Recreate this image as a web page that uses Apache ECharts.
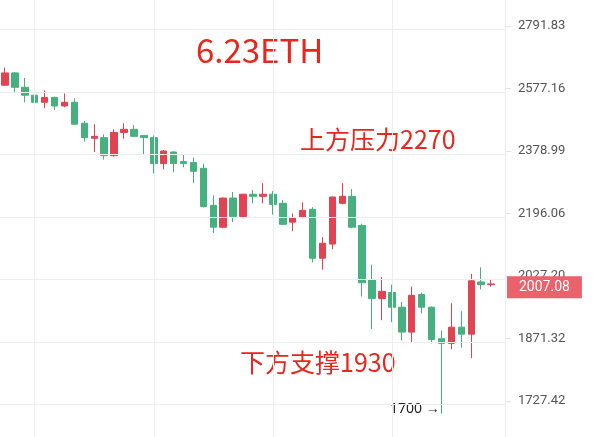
<!DOCTYPE html>
<html><head><meta charset="utf-8">
<script src="https://cdn.jsdelivr.net/npm/echarts@6/dist/echarts.min.js"></script>
<style>html,body{margin:0;padding:0;background:#fff}#c{width:593px;height:437px}</style>
</head><body><div id="c"></div>
<script>
// [open, close, low, high]
const candles = [
[2588,2629,2586,2647],[2629,2581,2564,2632],[2581,2555,2532,2612],[2555,2532,2529,2619],
[2532,2548,2513,2571],[2548,2520,2507,2550],[2520,2532,2516,2561],[2532,2462,2460,2545],
[2465,2420,2408,2472],[2418,2424,2376,2462],[2420,2365,2353,2430],[2365,2436,2362,2446],
[2436,2446,2417,2465],[2446,2424,2422,2459],[2427,2420,2367,2428],[2420,2341,2312,2427],
[2341,2379,2324,2382],[2376,2341,2315,2378],[2347,2341,2330,2370],[2344,2318,2283,2359],
[2327,2216,2213,2340],[2219,2158,2142,2248],[2158,2240,2155,2242],[2240,2188,2172,2257],
[2188,2251,2183,2252],[2251,2245,2225,2263],[2245,2251,2225,2283],[2251,2222,2193,2260],
[2225,2166,2164,2234],[2172,2185,2147,2196],[2185,2205,2183,2228],[2208,2074,2063,2214],
[2074,2114,2044,2131],[2112,2243,2098,2244],[2225,2245,2222,2283],[2245,2158,2155,2266],
[2163,2010,1975,2168],[2017,1970,1894,2057],[1970,1988,1916,2025],[1985,1948,1911,2005],
[1948,1887,1867,1961],[1887,1978,1862,2000],[1980,1948,1933,1985],[1948,1869,1860,1950],
[1871,1860,1700,1891],[1860,1899,1846,1958],[1899,1882,1850,1938],[1882,2015,1825,2033],
[2012,2005,1993,2050],[2005,2007,2000,2020]
];
const tickLabels = ['2791.83','2577.16','2378.99','2196.06','2027.20','1871.32','1727.42'];
const lastPrice = 2007.08;
const yRange = [1650, 2886];

const L = Math.log;
const cats = candles.map((_, i) => i).concat(['']);
const data = candles.map(c => c.map(L));
const tickVals = tickLabels.map(t => L(parseFloat(t)));
const fmt = v => { const i = tickVals.findIndex(t => Math.abs(t - v) < 1e-6); return i >= 0 ? tickLabels[i] : ''; };

const chart = echarts.init(document.getElementById('c'));
chart.setOption({
  animation: false,
  grid: {left: -2, right: 87, top: 0, bottom: 0},
  xAxis: {type: 'category', data: cats, show: false, boundaryGap: true},
  yAxis: {type: 'value', position: 'right', min: L(yRange[0]), max: L(yRange[1]), scale: true,
    splitLine: {show: false}, axisLine: {show: false},
    axisTick: {show: true, customValues: tickVals, length: 5, lineStyle: {color: '#e4e4e4'}},
    axisLabel: {customValues: tickVals, formatter: fmt, color: '#555', fontSize: 13, margin: 12, fontFamily: 'Roboto'}},
  series: [{
    type: 'candlestick', data: data, barWidth: 7,
    itemStyle: {color: '#e04452', color0: '#47b07f', borderColor: '#e04452', borderColor0: '#47b07f', borderWidth: 1},
    markLine: {silent: true, symbol: 'none',
      lineStyle: {color: '#eeeeee', width: 1, type: 'solid'}, label: {show: false},
      data: tickVals.map(v => ({yAxis: v})).concat([3, 15, 27, 39].map(i => ({xAxis: i})))
        .concat([{yAxis: L(lastPrice), lineStyle: {color: 'rgba(0,0,0,0)', width: 1},
          label: {show: true, position: 'end', formatter: lastPrice.toFixed(2), color: '#fff', fontSize: 14,
            backgroundColor: '#e9626c', padding: [4, 12, 4, 12], distance: 1, fontFamily: 'Roboto'}}])
    }
  }],
  graphic: [
    {type: 'rect', shape: {x: 505, y: 0, width: 1, height: 437}, style: {fill: '#ececec'}},
    {type: 'text', left: 196, top: 34, style: {text: '6.23ETH', fill: '#e8261c', font: '33px "Noto Sans CJK SC", sans-serif'}},
    {type: 'text', left: 300, top: 127, style: {text: '上方压力2270', fill: '#e8261c', font: '25px "Noto Sans CJK SC", sans-serif'}},
    {type: 'text', left: 240, top: 350, style: {text: '下方支撑1930', fill: '#e8261c', font: '25px "Noto Sans CJK SC", sans-serif'}},
    {type: 'text', left: 390, top: 402, style: {text: '1700 →', fill: '#222', font: '14px "Noto Sans", sans-serif'}}
  ]
});
</script></body></html>
